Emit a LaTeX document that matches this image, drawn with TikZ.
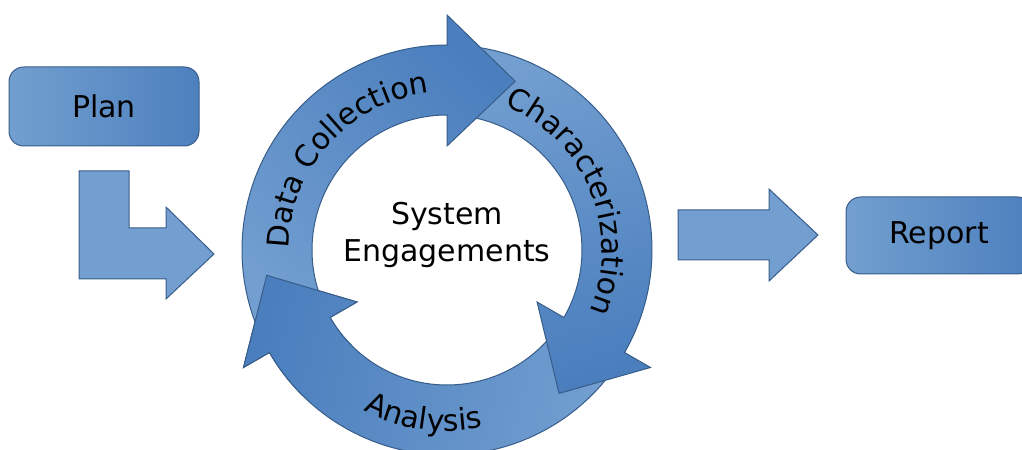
\documentclass[tikz,border=0pt]{standalone}
\usepackage{fontspec}
\setmainfont{DejaVu Sans}
\usepackage{tikz}
\usetikzlibrary{decorations.text}
\definecolor{boxlight}{RGB}{114,159,207}
\definecolor{boxdark}{RGB}{77,128,190}
\definecolor{ringlight}{RGB}{114,158,208}
\definecolor{ringdark}{RGB}{74,126,189}
\definecolor{edgeblue}{RGB}{56,93,138}
\newcommand{\bigfont}{\fontsize{22.5}{28}\selectfont}
% one arrow of the ring, #1 = angle of the head base
\newcommand{\ringarrow}[1]{%
  \path[ringedge, bottom color=ringlight, top color=ringdark, shading angle=#1-133]
    (#1+115:135) arc[start angle=#1+115, end angle=#1, radius=135]
    -- (#1:104) -- (#1-22:182) -- (#1:235) -- (#1:205)
    arc[start angle=#1, end angle=#1+115, radius=205] -- cycle;}
\tikzset{
  box/.style={draw=edgeblue, line width=0.75pt, rounded corners=11pt, left color=boxlight,
    right color=boxdark, inner sep=0pt, font=\bigfont},
  flatarrow/.style={draw=edgeblue, line width=0.75pt, fill=boxlight},
  ringedge/.style={draw=edgeblue, line width=0.75pt},
  ringtext/.style={decorate, decoration={text along path, text align=center, text={|\bigfont|#1}}}
}

\begin{document}
\begin{tikzpicture}[x=0.75pt,y=0.75pt]
  \useasboundingbox (0,0) rectangle (1022,450);
  \clip (0,0) rectangle (1022,450);

  % left part
  \node[box, minimum width=142.5pt, minimum height=59.25pt] (plan) at (104,343.5) {Plan};
  \draw[flatarrow] (79,279) -- (129,279) -- (129,222) -- (166,222) -- (166,243)
    -- (214,196) -- (166,151) -- (166,171) -- (79,171) -- cycle;

  % the cycle
  \begin{scope}[shift={(447,200)}]
    \ringarrow{-150}
    \ringarrow{-30}
    \ringarrow{90}
    \begin{scope}
      \clip (0,0) -- (180:260) arc[start angle=180, end angle=225, radius=260] -- cycle;
      \ringarrow{-150}
    \end{scope}
    \path[ringtext=Data Collection] (183:158) arc[start angle=183, end angle=93, radius=158];
    \path[ringtext=Characterization] (68:155) arc[start angle=68, end angle=-23, radius=155];
    \path[ringtext=Analysis] (222:181) arc[start angle=222, end angle=302, radius=181];
    \node[font=\bigfont, align=center] (engage) at (0,15) {System\\Engagements};
  \end{scope}

  % right part
  \draw[flatarrow] (678,240) -- (769,240) -- (769,261) -- (818,215) -- (769,169)
    -- (769,190) -- (678,190) -- cycle;
  \node[box, minimum width=139.5pt, minimum height=57.75pt] (report) at (939,214.5) {Report};
\end{tikzpicture}
\end{document}
